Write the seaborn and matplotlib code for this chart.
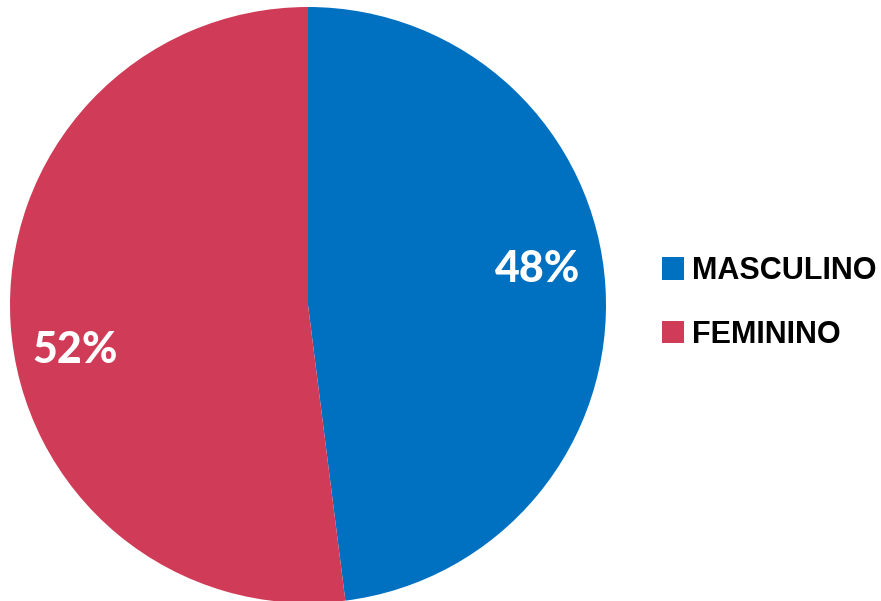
import matplotlib
matplotlib.use("Agg")
import matplotlib.pyplot as plt
import seaborn as sns

# data
categories = ["MASCULINO", "FEMININO"]
values = [48, 52]
colors = ["#0070C0", "#D03B57"]

sns.set_theme(style="white")
plt.rcParams['font.family'] = ['Liberation Sans', 'DejaVu Sans']

fig = plt.figure(figsize=(8.81, 6.01), dpi=100)
ax = fig.add_axes([10 / 881, -2 / 601, 596 / 881, 596 / 601])

wedges, texts, autotexts = ax.pie(
    values, colors=colors, startangle=90, counterclock=False,
    radius=1, autopct="%1.0f%%", pctdistance=0.78,
    wedgeprops=dict(linewidth=0, edgecolor="none"),
    textprops=dict(color="white", fontsize=31, fontweight="black", family="Lato"),
)
ax.set_xlim(-1, 1)
ax.set_ylim(-1, 1)
ax.set_aspect("equal")

# nudge the percentage labels like the original
autotexts[0].set_position((0.77, 0.12))
autotexts[1].set_position((-0.78, -0.15))

fig.legend(
    wedges, categories, loc="center left", bbox_to_anchor=(634 / 881, 1 - 303 / 601),
    frameon=False, handlelength=0.75, handleheight=0.75, handletextpad=0.25,
    labelspacing=1.1, labelcolor="black",
    prop=dict(family="Liberation Sans", weight="bold", size=22),
)

fig.savefig("out.png", dpi=100)
